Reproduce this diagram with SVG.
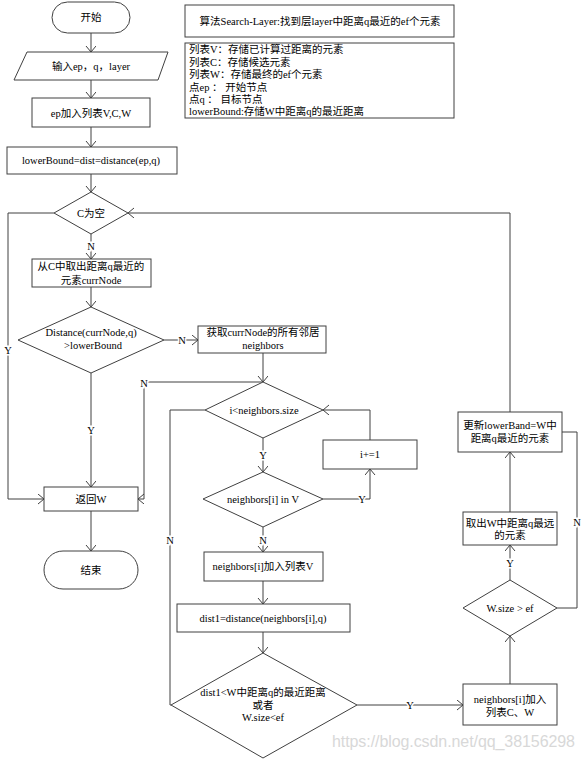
<svg xmlns="http://www.w3.org/2000/svg" width="585" height="760" viewBox="0 0 585 760">
<style>
.s{fill:#fff;stroke:#404040;stroke-width:1}
.t{font-family:"Liberation Serif","Noto Sans CJK SC",serif;font-size:10.5px;fill:#000;text-anchor:middle;dominant-baseline:central}
.l{font-family:"Liberation Serif","Noto Sans CJK SC",serif;font-size:10.5px;fill:#000;dominant-baseline:central}
.c{fill:none;stroke:#404040;stroke-width:1}
.lb{font-family:"Liberation Serif","Noto Sans CJK SC",serif;font-size:10.5px;fill:#000;text-anchor:middle;dominant-baseline:central;stroke:#fff;stroke-width:3;paint-order:stroke}
</style>
<defs>
<marker id="a" markerUnits="userSpaceOnUse" markerWidth="12" markerHeight="12" refX="8" refY="5" orient="auto">
<path d="M2,0 L8,5 L2,10" fill="none" stroke="#404040" stroke-width="1"/>
</marker>
</defs>
<rect width="585" height="760" fill="#fff"/>
<g id="title"><rect class="s" x="185" y="5" width="269" height="32" stroke-width="1.5"/><text class="t" x="320" y="21">算法Search-Layer:找到层layer中距离q最近的ef个元素</text></g>
<g id="legend"><rect class="s" x="185" y="43" width="269" height="75" stroke-width="1.5"/>
<text class="l" x="189" y="49">列表V：存储已计算过距离的元素</text>
<text class="l" x="189" y="62">列表C：存储候选元素</text>
<text class="l" x="189" y="74">列表W：存储最终的ef个元素</text>
<text class="l" x="189" y="87">点ep ： 开始节点</text>
<text class="l" x="189" y="99">点q  ： 目标节点</text>
<text class="l" x="189" y="111">lowerBound:存储W中距离q的最近距离</text></g>
<g id="connectors">
<path class="c" marker-end="url(#a)" d="M91,33 V52"/>
<path class="c" marker-end="url(#a)" d="M91,80 V98"/>
<path class="c" marker-end="url(#a)" d="M91,127 V147"/>
<path class="c" marker-end="url(#a)" d="M91,174 V192"/>
<path class="c" marker-end="url(#a)" d="M54,213 H8 V499 H44"/>
<path class="c" marker-end="url(#a)" d="M91,234 V259"/>
<path class="c" marker-end="url(#a)" d="M91,287 V307"/>
<path class="c" marker-end="url(#a)" d="M164,340 H198"/>
<path class="c" marker-end="url(#a)" d="M91,373 V487"/>
<path class="c" marker-end="url(#a)" d="M91,511 V551"/>
<path class="c" marker-end="url(#a)" d="M263,353 V382"/>
<path class="c" marker-end="url(#a)" d="M263,382 H144 V499 H138" stroke="#707070" stroke-width="1.5"/>
<path class="c" d="M205,410 H170 V705 H171" stroke="#707070" stroke-width="1.5"/>
<path class="c" marker-end="url(#a)" d="M263,438 V472"/>
<path class="c" marker-end="url(#a)" d="M323,499 H370 V469"/>
<path class="c" marker-end="url(#a)" d="M263,527 V552"/>
<path class="c" marker-end="url(#a)" d="M263,581 V604"/>
<path class="c" marker-end="url(#a)" d="M263,632 V653"/>
<path class="c" marker-end="url(#a)" d="M357,705 H463"/>
<path class="c" marker-end="url(#a)" d="M510,684 V636"/>
<path class="c" marker-end="url(#a)" d="M510,580 V545"/>
<path class="c" d="M557,608 H577 V432 H562"/>
<path class="c" marker-end="url(#a)" d="M510,512 V452"/>
<path class="c" marker-end="url(#a)" d="M510,412 V213 H128"/>
<path class="c" marker-end="url(#a)" d="M370,440 V410 H323"/>
<text class="lb" x="8" y="350">Y</text>
<text class="lb" x="91" y="246">N</text>
<text class="lb" x="182" y="340">N</text>
<text class="lb" x="91" y="430">Y</text>
<text class="lb" x="144" y="383">N</text>
<text class="lb" x="170" y="540">N</text>
<text class="lb" x="263" y="455">Y</text>
<text class="lb" x="362" y="499">Y</text>
<text class="lb" x="263" y="540">N</text>
<text class="lb" x="410" y="705">Y</text>
<text class="lb" x="510" y="563">Y</text>
<text class="lb" x="577" y="522">N</text>
</g>
<g id="start"><rect class="s" x="52" y="2" width="78" height="31" rx="15.5"/><text class="t" x="91" y="17">开始</text></g>
<g id="input"><polygon class="s" points="27,52 168,52 158,80 14,80"/><text class="t" x="91" y="66">输入ep，q，layer</text></g>
<g id="init"><rect class="s" x="32" y="98" width="118" height="29"/><text class="t" x="91" y="113">ep加入列表V,C,W</text></g>
<g id="lowerBound"><rect class="s" x="7" y="147" width="170" height="27"/><text class="t" x="91" y="160">lowerBound=dist=distance(ep,q)</text></g>
<g id="cEmpty"><polygon class="s" points="91,192 128,213 91,234 54,213"/><text class="t" x="91" y="213">C为空</text></g>
<g id="takeC"><rect class="s" x="32" y="259" width="119" height="28"/><text class="t" x="91" y="266">从C中取出距离q最近的</text><text class="t" x="91" y="280">元素currNode</text></g>
<g id="distCheck"><polygon class="s" points="91,307 164,340 91,373 18,340"/><text class="t" x="91" y="332">Distance(currNode,q)</text><text class="t" x="93" y="345">&gt;lowerBound</text></g>
<g id="getNeighbors"><rect class="s" x="198" y="326" width="128" height="27"/><text class="t" x="263" y="332">获取currNode的所有邻居</text><text class="t" x="263" y="345">neighbors</text></g>
<g id="returnW"><rect class="s" x="44" y="487" width="94" height="24"/><text class="t" x="91" y="499">返回W</text></g>
<g id="end"><rect class="s" x="44" y="551" width="94" height="38" rx="19"/><text class="t" x="91" y="570">结束</text></g>
<g id="loopCond"><polygon class="s" points="263,382 323,410 263,438 205,410"/><text class="t" x="264" y="410">i&lt;neighbors.size</text></g>
<g id="inc"><rect class="s" x="323" y="440" width="94" height="29"/><text class="t" x="370" y="454">i+=1</text></g>
<g id="inV"><polygon class="s" points="263,472 323,499 263,527 203,499"/><text class="t" x="263" y="499">neighbors[i] in V</text></g>
<g id="addV"><rect class="s" x="204" y="552" width="119" height="29"/><text class="t" x="263" y="566">neighbors[i]加入列表V</text></g>
<g id="dist1"><rect class="s" x="177" y="604" width="173" height="28"/><text class="t" x="263" y="618">dist1=distance(neighbors[i],q)</text></g>
<g id="dist1Cond"><polygon class="s" points="263,653 357,705 263,758 171,705"/><text class="t" x="263" y="692">dist1&lt;W中距离q的最近距离</text><text class="t" x="263" y="705">或者</text><text class="t" x="263" y="717">W.size&lt;ef</text></g>
<g id="addCW"><rect class="s" x="463" y="684" width="94" height="41"/><text class="t" x="510" y="699">neighbors[i]加入</text><text class="t" x="510" y="712">列表C、W</text></g>
<g id="sizeCond"><polygon class="s" points="510,580 557,608 510,636 463,608"/><text class="t" x="510" y="608">W.size &gt; ef</text></g>
<g id="takeW"><rect class="s" x="463" y="512" width="94" height="33"/><text class="t" x="510" y="523">取出W中距离q最远</text><text class="t" x="510" y="535">的元素</text></g>
<g id="update"><rect class="s" x="458" y="412" width="104" height="40"/><text class="t" x="510" y="425">更新lowerBand=W中</text><text class="t" x="510" y="438">距离q最近的元素</text></g>
<text x="332" y="747" font-family="Liberation Sans,Arial,sans-serif" font-size="16" fill="#d8d8d8" textLength="243">https://blog.csdn.net/qq_38156298</text>
</svg>
